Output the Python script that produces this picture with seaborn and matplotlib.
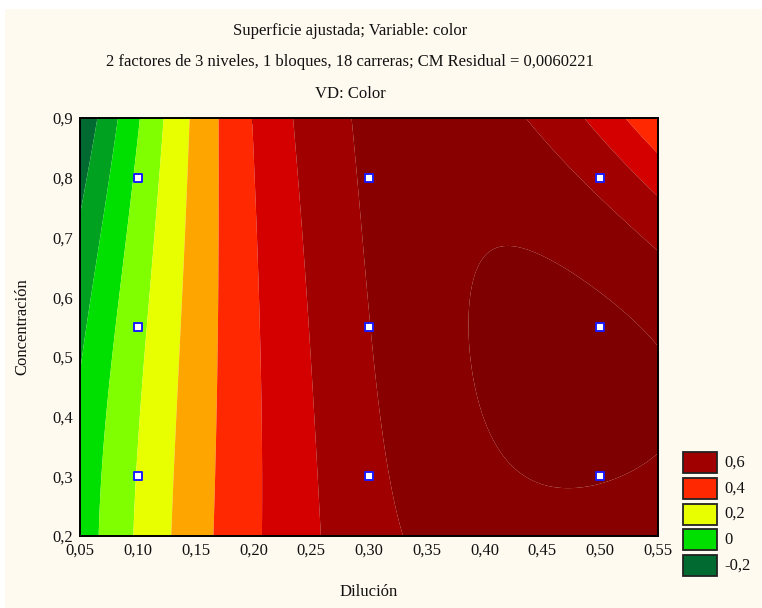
import numpy as np
import matplotlib
matplotlib.use("Agg")
import matplotlib.pyplot as plt
from matplotlib.patches import Rectangle
import seaborn as sns

# 3x3 factorial design: Dilución x Concentración, cell means of "color"
dilucion = [0.1, 0.3, 0.5]
concentracion = [0.3, 0.55, 0.8]
# rows follow concentracion, columns follow dilucion
color_030 = [0.205, 0.675, 0.805]
color_055 = [0.172, 0.698, 0.82]
color_080 = [0.118, 0.715, 0.67]

# contour boundaries and fill colours (one more colour than boundaries)
boundaries = [-0.1, 0.0, 0.1, 0.2, 0.3, 0.4, 0.5, 0.6, 0.7, 0.8]
band_colors = ["#006a30", "#00a020", "#00e000", "#80ff00", "#e8ff00",
               "#ffa500", "#ff2800", "#d40000", "#a00000", "#880000",
               "#7e0000"]
legend_labels = ["0,6", "0,4", "0,2", "0", "-0,2"]
legend_colors = ["#a00000", "#ff2800", "#e8ff00", "#00e000", "#006a30"]

x_ticks = [0.05, 0.10, 0.15, 0.20, 0.25, 0.30, 0.35, 0.40, 0.45, 0.50, 0.55]
y_ticks = [0.2, 0.3, 0.4, 0.5, 0.6, 0.7, 0.8, 0.9]

title_lines = ["Superficie ajustada; Variable: color",
               "2 factores de 3 niveles, 1 bloques, 18 carreras; CM Residual = 0,0060221",
               "VD: Color"]

# ---- fitted surface: full 3-level model (L, Q and all interactions) ----
xc, xs = 0.3, 0.2
yc, ys = 0.55, 0.25
X, Y = np.meshgrid(dilucion, concentracion)
Z = np.array([color_030, color_055, color_080])


def terms(u, v):
    return np.stack([np.ones_like(u), u, v, u**2, v**2, u*v,
                     u**2*v, u*v**2, u**2*v**2], axis=-1)


U = (X.ravel() - xc) / xs
V = (Y.ravel() - yc) / ys
coef, *_ = np.linalg.lstsq(terms(U, V), Z.ravel(), rcond=None)

gx = np.linspace(0.05, 0.55, 401)
gy = np.linspace(0.2, 0.9, 401)
GX, GY = np.meshgrid(gx, gy)
GZ = terms((GX - xc) / xs, (GY - yc) / ys) @ coef

# ---- figure ----
sns.set_style("white")
plt.rcParams["font.family"] = ["Liberation Serif", "DejaVu Serif"]
cream = "#fffaf0"

fig = plt.figure(figsize=(7.62, 6.08), dpi=100, facecolor=cream)
fig.patches.append(Rectangle((0, 1 - 9 / 608), 1, 9 / 608, transform=fig.transFigure,
                             facecolor="white", edgecolor="none", zorder=-1))
fig.patches.append(Rectangle((0, 0), 5 / 762, 1, transform=fig.transFigure,
                             facecolor="white", edgecolor="none", zorder=-1))

ax = fig.add_axes([80 / 762, 1 - 536 / 608, 578 / 762, 418 / 608])
levels = [-10] + boundaries + [10]
ax.contourf(GX, GY, GZ, levels=levels, colors=band_colors, antialiased=True)

pts_x = X.ravel()
pts_y = Y.ravel()
sns.scatterplot(x=pts_x, y=pts_y, ax=ax, marker="s", s=26, color="white",
                edgecolor="#1a1aff", linewidth=1.4, zorder=5, legend=False)

ax.set_xlim(0.05, 0.55)
ax.set_ylim(0.2, 0.9)
ax.set_xticks(x_ticks)
ax.set_yticks(y_ticks)
ax.set_xticklabels([f"{t:.2f}".replace(".", ",") for t in x_ticks])
ax.set_yticklabels([f"{t:.1f}".replace(".", ",") for t in y_ticks])
ax.tick_params(direction="in", length=4, width=1.2, color="black",
               top=True, right=True, labelsize=12, pad=5, labelcolor="#111111")
for sp in ax.spines.values():
    sp.set_color("black")
    sp.set_linewidth(1.4)
    sp.set_visible(True)
ax.set_facecolor(cream)

ax.set_xlabel("Dilución", fontsize=12, labelpad=18, color="#111111")
ax.set_ylabel("Concentración", fontsize=12, labelpad=16, color="#111111")

for i, line in enumerate(title_lines):
    fig.text(350 / 762, 1 - (31 + 31.5 * i) / 608, line,
             ha="center", va="center", fontsize=12, color="#111111")

# legend boxes
for i, (lab, col) in enumerate(zip(legend_labels, legend_colors)):
    top = 452 + 25.8 * i
    fig.patches.append(Rectangle((683 / 762, 1 - (top + 21) / 608), 34 / 762, 21 / 608,
                                 transform=fig.transFigure, facecolor=col,
                                 edgecolor="#222222", linewidth=1.3))
    fig.text(724 / 762, 1 - (top + 10.5) / 608, lab, ha="left", va="center",
             fontsize=12, color="#111111")

fig.savefig("out.png", dpi=100, facecolor=fig.get_facecolor())
